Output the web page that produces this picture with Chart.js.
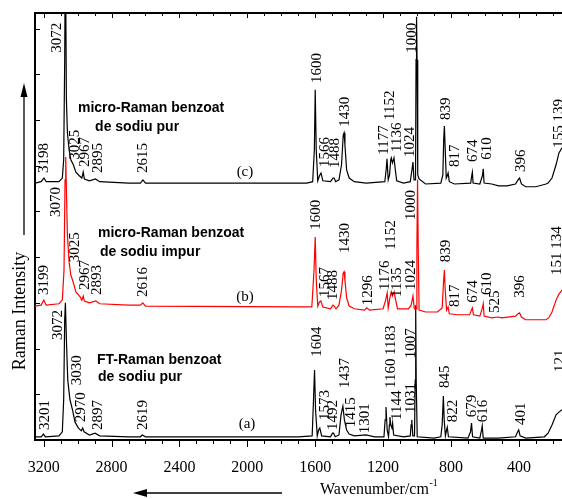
<!DOCTYPE html>
<html>
<head>
<meta charset="utf-8">
<script src="https://cdn.jsdelivr.net/npm/chart.js@4.4.0/dist/chart.umd.min.js"></script>
<style>
  html, body { margin: 0; padding: 0; background: #fff; overflow: hidden; }
  #wrap { width: 562px; height: 499px; position: relative; }
</style>
</head>
<body>
<div id="wrap"><canvas id="ramanChart"></canvas></div>
<script>
// Spectre Raman: [numar de unda (cm-1), intensitate (u.a.)]
// (c) micro-Raman benzoat de sodiu pur
const spectrumC = [
  [3251, 56.2], [3215, 56.5], [3198, 57.3], [3185, 56.5], [3110, 56.5], [3090, 57.3],
  [3082, 61.3], [3076, 83.2], [3072, 110], [3066, 74.4], [3060, 67.2], [3050, 63.5],
  [3040, 61.3], [3025, 60.2], [3010, 58.6], [2990, 57.8], [2975, 57.3], [2967, 58.6],
  [2960, 57.1], [2930, 56.7], [2895, 57.1], [2870, 56.5], [2700, 56.2], [2630, 56.2],
  [2615, 56.9], [2600, 56.2], [1650, 56.2], [1615, 56.5], [1605, 63.5], [1600, 76.6],
  [1594, 63.5], [1585, 56.7], [1575, 57.8], [1566, 58.4], [1555, 56.7], [1510, 56.5],
  [1495, 57.3], [1488, 57.3], [1480, 56.5], [1460, 56.9], [1445, 60.2], [1435, 66.7],
  [1430, 67.2], [1425, 64.6], [1415, 59.1], [1400, 57.3], [1370, 56.5], [1300, 56.2],
  [1190, 56.5], [1182, 59.1], [1177, 61.5], [1170, 56.9], [1162, 58.0], [1155, 61.3],
  [1152, 61.7], [1145, 60.6], [1136, 61.7], [1128, 59.1], [1120, 56.7], [1080, 56.2],
  [1040, 56.5], [1030, 59.1], [1024, 60.8], [1018, 56.9], [1009, 56.9], [1006, 83.2],
  [1003, 92.6], [1000, 83.2], [996, 58.0], [988, 57.1], [950, 56.0], [860, 56.2],
  [848, 58.0], [843, 65.6], [839, 68.7], [834, 63.5], [828, 57.3], [822, 57.8],
  [817, 58.4], [810, 56.5], [780, 56.0], [684, 56.2], [677, 58.0], [674, 58.6],
  [670, 56.2], [630, 56.0], [615, 57.8], [610, 59.3], [605, 56.2], [560, 56.0],
  [520, 55.6], [470, 55.6], [420, 56.0], [405, 56.9], [396, 57.3], [385, 56.0],
  [360, 55.4], [300, 55.4], [240, 56.0], [228, 56.2], [205, 57.3], [181, 60.2],
  [164, 62.8], [146, 63.9]
];

// (b) micro-Raman benzoat de sodiu impur
const spectrumB = [
  [3251, 29.3], [3215, 29.5], [3199, 30.6], [3185, 29.5], [3110, 29.8], [3090, 30.6],
  [3080, 37.2], [3074, 56.9], [3070, 61.9], [3066, 54.7], [3060, 44.9], [3050, 38.9],
  [3040, 36.1], [3025, 34.4], [3010, 32.4], [2985, 31.3], [2975, 30.6], [2967, 31.5],
  [2960, 30.4], [2930, 30.0], [2893, 30.4], [2870, 29.8], [2700, 29.5], [2630, 29.5],
  [2616, 30.0], [2600, 29.3], [1700, 29.1], [1620, 29.1], [1607, 37.2], [1600, 44.4],
  [1594, 35.0], [1585, 29.3], [1575, 30.2], [1567, 30.4], [1555, 29.1], [1510, 28.7],
  [1495, 29.5], [1488, 29.3], [1478, 28.7], [1460, 29.5], [1445, 32.8], [1435, 36.5],
  [1430, 36.8], [1425, 35.0], [1415, 31.1], [1400, 29.3], [1370, 28.7], [1310, 28.4],
  [1296, 28.9], [1280, 28.4], [1200, 28.7], [1185, 30.6], [1176, 32.2], [1170, 28.9],
  [1160, 31.1], [1152, 32.4], [1145, 31.5], [1135, 32.4], [1126, 30.6], [1115, 28.7],
  [1050, 28.7], [1035, 29.5], [1024, 31.5], [1016, 28.7], [1005, 28.7], [1001, 41.6],
  [997, 56.9], [993, 41.6], [988, 28.4], [950, 28.0], [880, 28.0], [852, 28.9],
  [845, 33.9], [839, 37.2], [834, 32.8], [826, 28.4], [817, 29.1], [810, 27.6],
  [760, 27.4], [690, 27.4], [680, 28.4], [674, 28.9], [668, 27.4], [630, 27.1],
  [615, 28.9], [610, 29.8], [605, 27.1], [560, 26.7], [525, 26.9], [500, 26.7],
  [420, 27.1], [405, 27.6], [396, 27.8], [385, 26.9], [360, 26.3], [240, 26.3],
  [225, 26.7], [205, 28.0], [181, 30.6], [164, 31.9], [146, 32.8]
];

// (a) FT-Raman benzoat de sodiu pur
const spectrumA = [
  [3251, 0.7], [3215, 0.7], [3201, 1.3], [3190, 0.7], [3110, 0.9], [3090, 1.8],
  [3082, 8.8], [3076, 26.3], [3072, 30.0], [3066, 21.9], [3058, 13.1], [3045, 8.8],
  [3030, 6.6], [3015, 3.9], [2995, 2.6], [2978, 2.0], [2970, 2.6], [2962, 1.8],
  [2930, 1.1], [2897, 1.5], [2870, 0.9], [2700, 0.7], [2630, 0.7], [2619, 1.1],
  [2600, 0.7], [1700, 0.7], [1618, 0.9], [1610, 8.8], [1604, 15.3], [1598, 6.6],
  [1588, 0.9], [1580, 2.2], [1573, 2.6], [1562, 0.9], [1510, 0.7], [1498, 1.5],
  [1492, 1.5], [1482, 0.7], [1460, 1.1], [1448, 5.5], [1437, 7.4], [1428, 4.4],
  [1415, 2.2], [1400, 1.3], [1370, 0.9], [1301, 1.1], [1250, 0.7], [1195, 0.7],
  [1188, 4.4], [1183, 7.2], [1176, 2.2], [1168, 0.7], [1163, 3.3], [1160, 5.0],
  [1155, 3.3], [1148, 2.6], [1144, 3.7], [1138, 1.1], [1080, 0.7], [1040, 0.9],
  [1035, 3.3], [1031, 4.4], [1025, 0.9], [1015, 0.9], [1011, 13.1], [1008, 29.5],
  [1005, 13.1], [999, 0.7], [900, 0.4], [860, 0.7], [852, 3.3], [845, 9.6],
  [840, 4.4], [833, 0.9], [826, 2.2], [822, 2.8], [815, 0.7], [700, 0.4],
  [685, 1.8], [679, 3.7], [673, 0.7], [630, 0.4], [620, 2.2], [616, 3.1],
  [610, 0.4], [520, 0.4], [420, 0.7], [407, 1.8], [401, 2.2], [393, 0.9],
  [360, 0.4], [250, 0.7], [228, 1.5], [205, 3.3], [181, 5.5], [164, 6.1], [146, 6.6]
];

const xTickValues = [3200, 2800, 2400, 2000, 1600, 1200, 800, 400];

// Etichete peak-uri: [text, numar de unda, intensitate la capatul de jos al textului]
const peaksC = [
  ['3072', 3121, 84.7], ['3198', 3198, 58.4], ['3025', 3015, 61.3], ['2967', 2956, 59.7],
  ['2895', 2880, 58.4], ['2615', 2615, 58.4], ['1600', 1589, 78.1], ['1566', 1542, 59.7],
  ['1488', 1483, 59.5], ['1430', 1424, 68.5], ['1177', 1195, 62.4], ['1152', 1159, 70.0],
  ['1136', 1118, 63.0], ['1024', 1041, 61.9], ['1000', 1030, 84.7], ['839', 829, 70.0],
  ['817', 776, 59.7], ['674', 670, 60.8], ['610', 588, 61.3], ['396', 388, 58.6],
  ['155 139', 164, 63.9]
];
const peaksB = [
  ['3070', 3127, 48.8], ['3025', 3015, 38.9], ['3199', 3198, 31.7], ['2967', 2956, 32.8],
  ['2893', 2886, 31.7], ['2616', 2615, 31.3], ['1600', 1595, 46.0], ['1567', 1544, 31.3],
  ['1488', 1495, 30.6], ['1430', 1424, 40.9], ['1296', 1289, 29.5], ['1176', 1189, 32.8],
  ['1152', 1153, 41.6], ['1135', 1118, 31.3], ['1024', 1036, 32.8], ['1000', 1036, 48.1],
  ['839', 829, 38.9], ['817', 776, 29.1], ['674', 670, 30.0], ['610', 588, 31.7],
  ['525', 541, 27.8], ['396', 393, 31.1], ['151 134', 175, 36.1]
];
const peaksA = [
  ['3072', 3115, 21.9], ['3030', 3004, 12.0], ['3201', 3192, 2.2], ['2970', 2980, 3.9],
  ['2897', 2880, 2.2], ['2619', 2615, 2.2], ['1604', 1589, 18.2], ['1573', 1542, 4.4],
  ['1492', 1495, 2.2], ['1437', 1424, 11.4], ['1415', 1389, 2.8], ['1301', 1307, 1.5],
  ['1183', 1153, 18.6], ['1160', 1153, 11.4], ['1144', 1118, 4.4], ['1031', 1036, 5.9],
  ['1007', 1036, 17.9], ['845', 835, 11.4], ['822', 788, 3.9], ['679', 676, 5.0],
  ['616', 611, 3.9], ['401', 388, 3.3], ['121', 158, 14.9]
];

// Texte descriptive: [text, numar de unda (stanga), intensitate]
const sampleNotes = [
  ['micro-Raman benzoat', 2998, 72.6], ['de sodiu pur', 2897, 68.5],
  ['micro-Raman benzoat', 2880, 45.3], ['de sodiu impur', 2868, 41.1],
  ['FT-Raman benzoat', 2886, 17.5], ['de sodiu pur', 2880, 13.8]
];
const traceTags = [['(c)', 2014, 58.6], ['(b)', 2014, 31.3], ['(a)', 2002, 3.5]];

const SERIF = '"Liberation Serif", "Times New Roman", serif';
const SANS = '"Liberation Sans", Arial, sans-serif';

const toXY = (arr) => arr.map(([w, v]) => ({ x: w, y: v }));

// Plugin pentru rama, ticks, etichete si sageti
const decorPlugin = {
  id: 'decor',
  afterDraw(chart) {
    const { ctx, chartArea: a } = chart;
    const x = chart.scales.x;
    const y = chart.scales.y;
    ctx.save();
    ctx.strokeStyle = '#000';
    ctx.fillStyle = '#000';

    // rama de sus
    ctx.lineWidth = 2;
    ctx.beginPath();
    ctx.moveTo(a.left, a.top);
    ctx.lineTo(a.right + 2, a.top);
    ctx.stroke();

    // ticks pe axa x (jos in afara, sus in interior)
    ctx.lineWidth = 1;
    for (let w = 3200; w >= x.min; w -= 100) {
      const px = Math.round(x.getPixelForValue(w)) + 0.5;
      const major = w % 400 === 0;
      ctx.beginPath();
      ctx.moveTo(px, a.bottom);
      ctx.lineTo(px, a.bottom + (major ? 7 : 4));
      ctx.moveTo(px, a.top);
      ctx.lineTo(px, a.top + (major ? 5 : 3));
      ctx.stroke();
    }
    // ticks pe axa y (in interior)
    for (let v = 10; v <= 90; v += 10) {
      const py = Math.round(y.getPixelForValue(v)) + 0.5;
      ctx.beginPath();
      ctx.moveTo(a.left, py);
      ctx.lineTo(a.left + 5, py);
      ctx.stroke();
    }

    // etichete verticale pentru peak-uri
    ctx.font = '15px ' + SERIF;
    ctx.textAlign = 'left';
    ctx.textBaseline = 'middle';
    [peaksC, peaksB, peaksA].forEach((list) => {
      list.forEach(([txt, w, v]) => {
        ctx.save();
        ctx.translate(x.getPixelForValue(w), y.getPixelForValue(v));
        ctx.rotate(-Math.PI / 2);
        ctx.fillText(txt, 0, 0);
        ctx.restore();
      });
    });

    // texte despre probe
    ctx.font = 'bold 14px ' + SANS;
    sampleNotes.forEach(([txt, w, v]) => {
      ctx.fillText(txt, x.getPixelForValue(w), y.getPixelForValue(v));
    });
    ctx.font = '15px ' + SERIF;
    ctx.textAlign = 'center';
    traceTags.forEach(([txt, w, v]) => {
      ctx.fillText(txt, x.getPixelForValue(w), y.getPixelForValue(v));
    });

    // titlul axei x cu exponent
    ctx.textAlign = 'left';
    ctx.font = '16px ' + SERIF;
    const tx = a.left + 285;
    const ty = a.bottom + 50;
    ctx.fillText('Wavenumber/cm', tx, ty);
    const tw = ctx.measureText('Wavenumber/cm').width;
    ctx.font = '10px ' + SERIF;
    ctx.fillText('-1', tx + tw + 0.5, ty - 7);

    // titlul axei y
    ctx.save();
    ctx.translate(a.left - 15, 311);
    ctx.rotate(-Math.PI / 2);
    ctx.font = '18px ' + SERIF;
    ctx.textAlign = 'center';
    ctx.fillText('Raman Intensity', 0, 0);
    ctx.restore();

    // sageata in sus
    ctx.lineWidth = 1.3;
    ctx.beginPath();
    ctx.moveTo(a.left - 11, 235);
    ctx.lineTo(a.left - 11, 94);
    ctx.stroke();
    ctx.beginPath();
    ctx.moveTo(a.left - 11, 83);
    ctx.lineTo(a.left - 14.5, 97);
    ctx.lineTo(a.left - 7.5, 97);
    ctx.closePath();
    ctx.fill();

    // sageata spre stanga
    const ay = a.bottom + 53;
    ctx.beginPath();
    ctx.moveTo(282, ay);
    ctx.lineTo(144, ay);
    ctx.stroke();
    ctx.beginPath();
    ctx.moveTo(133, ay);
    ctx.lineTo(147, ay - 4);
    ctx.lineTo(147, ay + 4);
    ctx.closePath();
    ctx.fill();

    ctx.restore();
  }
};

const ctxRaman = document.getElementById('ramanChart').getContext('2d');
new Chart(ctxRaman, {
  type: 'line',
  data: {
    datasets: [
      { label: '(b)', data: toXY(spectrumB), borderColor: '#ff0000', borderWidth: 1.2, order: 0 },
      { label: '(c)', data: toXY(spectrumC), borderColor: '#000000', borderWidth: 1.2, order: 1 },
      { label: '(a)', data: toXY(spectrumA), borderColor: '#000000', borderWidth: 1.2, order: 2 }
    ]
  },
  options: {
    responsive: true,
    maintainAspectRatio: false,
    devicePixelRatio: 1,
    animation: false,
    elements: { point: { radius: 0 }, line: { tension: 0 } },
    layout: { padding: { top: 13, left: 0, right: 0, bottom: 0 } },
    plugins: { legend: { display: false }, tooltip: { enabled: false } },
    scales: {
      x: {
        type: 'linear',
        reverse: true,
        min: 146,
        max: 3251,
        grid: { display: false, drawTicks: false },
        border: { display: true, width: 2, color: '#000' },
        ticks: {
          color: '#000',
          font: { family: SERIF, size: 16 },
          padding: 18,
          autoSkip: false,
          maxRotation: 0,
          callback: (value) => String(value)
        },
        afterBuildTicks: (scale) => {
          scale.ticks = xTickValues.map((v) => ({ value: v }));
        },
        afterFit: (scale) => { scale.height = 59; }
      },
      y: {
        type: 'linear',
        min: 0,
        max: 93.4,
        grid: { display: false, drawTicks: false },
        border: { display: true, width: 2, color: '#000' },
        ticks: { display: false },
        afterFit: (scale) => { scale.width = 35; }
      }
    }
  },
  plugins: [decorPlugin]
});
</script>
</body>
</html>
